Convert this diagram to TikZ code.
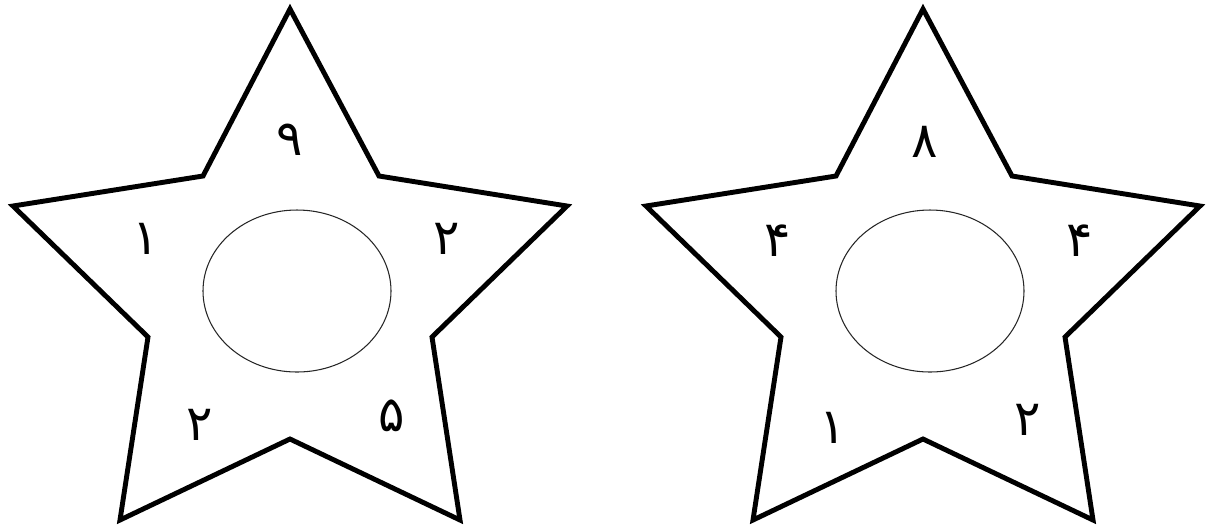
\documentclass[tikz,border=0pt]{standalone}
\usepackage{fontspec}
\newfontfamily\arabicfont[Script=Arabic]{DejaVu Sans}
\TeXXeTstate=1
\usepackage{tikz}

\begin{document}
\begin{tikzpicture}[
        x=0.02cm, y=-0.02cm,
        starline/.style={draw=black, line width=2.8pt},
        hole/.style={draw=black!85, line width=0.6pt},
        digit/.style={font=\arabicfont\fontsize{28}{32}\selectfont, inner sep=0pt}
    ]
    \useasboundingbox (0,0) rectangle (1210,529);

    % left star
    \draw[starline] (290,9) -- (379,176) -- (567,206) -- (432,337) -- (460,520)
        -- (290,439) -- (120,520) -- (148,337) -- (13,206) -- (203,176) -- cycle;
    \draw[hole] (297,291) ellipse [x radius=94, y radius=81];
    \node[digit] (top1) at (290,140) {\beginR ۹\endR};
    \node[digit] (left1) at (146,239) {\beginR ۱\endR};
    \node[digit] (right1) at (447,239) {\beginR ۲\endR};
    \node[digit] (botleft1) at (200,425) {\beginR ۲\endR};
    \node[digit] (botright1) at (392,416) {\beginR ۵\endR};

    % right star
    \begin{scope}[xshift=633*0.02cm]
        \draw[starline] (290,9) -- (379,176) -- (567,206) -- (432,337) -- (460,520)
            -- (290,439) -- (120,520) -- (148,337) -- (13,206) -- (203,176) -- cycle;
        \draw[hole] (297,291) ellipse [x radius=94, y radius=81];
        \node[digit] (top2) at (292,142) {\beginR ۸\endR};
        \node[digit] (left2) at (145,241) {\beginR ۴\endR};
        \node[digit] (right2) at (447,241) {\beginR ۴\endR};
        \node[digit] (botleft2) at (200,428) {\beginR ۱\endR};
        \node[digit] (botright2) at (395,420) {\beginR ۲\endR};
    \end{scope}
\end{tikzpicture}
\end{document}
